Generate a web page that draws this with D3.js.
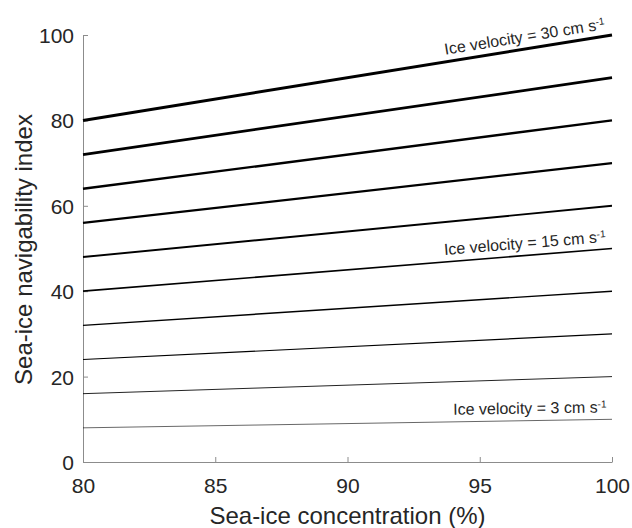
<!DOCTYPE html>
<html>
<head>
<meta charset="utf-8">
<script src="https://cdn.jsdelivr.net/npm/d3@7"></script>
<style>
  body { margin: 0; background: #fff; }
  text { font-family: "Liberation Sans", Arial, sans-serif; fill: #262626; }
</style>
</head>
<body>
<div id="container"></div>
<script>
/* DATA */
const concentration = [80, 100];
const velocities = [3, 6, 9, 12, 15, 18, 21, 24, 27, 30];
const indexAt80 = [8, 16, 24, 32, 40, 48, 56, 64, 72, 80];
const indexAt100 = [10, 20, 30, 40, 50, 60, 70, 80, 90, 100];
const labelled = [30, 15, 3];
const xTicks = [80, 85, 90, 95, 100];
const yTicks = [0, 20, 40, 60, 80, 100];

/* CONSTANTS AND GLOBALS */
const W = 632, H = 528;
const margin = { top: 35, right: 20, bottom: 66, left: 83 };
const width = 612 - margin.left;
const height = 462 - margin.top;

const svg = d3.select("#container")
  .append("svg")
  .attr("width", W)
  .attr("height", H);

const g = svg.append("g")
  .attr("transform", `translate(${margin.left},${margin.top})`);

const x = d3.scaleLinear().domain([80, 100]).range([0, width]);
const y = d3.scaleLinear().domain([0, 100]).range([height, 0]);
const lw = d3.scaleLinear().domain([3, 30]).range([0.6, 3]);

const series = velocities.map((v, i) => ({
  v,
  pts: [[concentration[0], indexAt80[i]], [concentration[1], indexAt100[i]]]
}));

const line = d3.line().x(d => x(d[0])).y(d => y(d[1]));

// axes (MATLAB style, ticks inward, no box)
const xAxis = g.append("g")
  .attr("transform", `translate(0,${height})`)
  .call(d3.axisBottom(x).tickValues(xTicks).tickSizeInner(-5).tickSizeOuter(0));
const yAxis = g.append("g")
  .call(d3.axisLeft(y).tickValues(yTicks).tickSizeInner(-5).tickSizeOuter(0).tickPadding(9));

[xAxis, yAxis].forEach(a => {
  a.select(".domain").attr("stroke", "#8c8c8c").attr("stroke-width", 1);
  a.selectAll(".tick line").attr("stroke", "#8c8c8c");
  a.selectAll(".tick text")
    .style("font-family", "Liberation Sans, Arial, sans-serif")
    .style("font-size", "21px")
    .attr("fill", "#262626");
});
xAxis.selectAll(".tick text").attr("y", 31).attr("dy", 0);
yAxis.selectAll(".tick text").attr("dy", "0.36em");

g.selectAll(".series")
  .data(series)
  .join("path")
  .attr("class", "series")
  .attr("d", d => line(d.pts))
  .attr("fill", "none")
  .attr("stroke", "#000")
  .attr("stroke-width", d => lw(d.v));

// labels along lines
series.filter(d => labelled.includes(d.v)).forEach(d => {
  const [p0, p1] = d.pts;
  const ang = Math.atan2(y(p1[1]) - y(p0[1]), x(p1[0]) - x(p0[0])) * 180 / Math.PI;
  const xe = x(99.8);
  const ye = y(p0[1] + (p1[1] - p0[1]) * (99.8 - p0[0]) / (p1[0] - p0[0]));
  const t = g.append("text")
    .attr("transform", `translate(${xe},${ye}) rotate(${ang})`)
    .attr("text-anchor", "end")
    .attr("dy", -7)
    .style("font-size", "16px")
    .attr("fill", "#000");
  t.append("tspan").text(`Ice velocity = ${d.v} cm s`);
  t.append("tspan").attr("baseline-shift", "super").style("font-size", "10px").text("-1");
});

// axis titles
svg.append("text")
  .attr("x", margin.left + width / 2)
  .attr("y", 524)
  .attr("text-anchor", "middle")
  .style("font-size", "24px")
  .text("Sea-ice concentration (%)");

svg.append("text")
  .attr("transform", `translate(32,${margin.top + height / 2 + 1}) rotate(-90)`)
  .attr("text-anchor", "middle")
  .style("font-size", "24px")
  .text("Sea-ice navigability index");
</script>
</body>
</html>
